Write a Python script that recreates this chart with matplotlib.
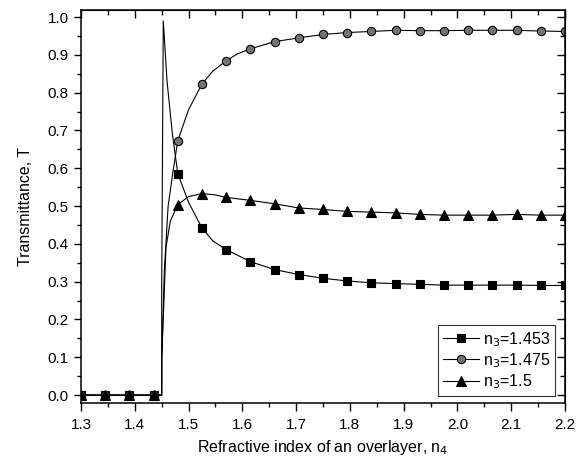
import numpy as np
import matplotlib
matplotlib.use("Agg")
import matplotlib.pyplot as plt
from matplotlib.ticker import MultipleLocator

plt.rcParams["font.family"] = ["Liberation Sans", "DejaVu Sans"]

# marker positions (overlayer index n4)
n4 = [1.300, 1.345, 1.390, 1.435, 1.480, 1.525, 1.570, 1.615, 1.660, 1.705, 1.750,
      1.795, 1.840, 1.885, 1.930, 1.975, 2.020, 2.065, 2.110, 2.155, 2.200]

t_1453 = [0.0, 0.0, 0.0, 0.0, 0.586, 0.442, 0.385, 0.353, 0.332, 0.319, 0.309,
          0.302, 0.297, 0.295, 0.293, 0.291, 0.291, 0.291, 0.291, 0.290, 0.290]
t_1475 = [0.0, 0.0, 0.0, 0.0, 0.673, 0.823, 0.884, 0.916, 0.935, 0.945, 0.954,
          0.959, 0.962, 0.965, 0.964, 0.964, 0.965, 0.965, 0.965, 0.963, 0.962]
t_15 = [0.0, 0.0, 0.0, 0.0, 0.504, 0.533, 0.523, 0.515, 0.506, 0.495, 0.491,
        0.486, 0.484, 0.482, 0.478, 0.476, 0.476, 0.476, 0.478, 0.476, 0.476]

# extra points of the curves between markers (mostly near the cut-off)
ex_1453_x = [1.4500, 1.4501, 1.453, 1.460, 1.470, 1.500, 1.545]
ex_1453_y = [0.0, 0.30, 0.990, 0.830, 0.690, 0.510, 0.408]
ex_1475_x = [1.4500, 1.4502, 1.455, 1.462, 1.472, 1.500, 1.545, 1.590]
ex_1475_y = [0.0, 0.10, 0.33, 0.50, 0.60, 0.755, 0.857, 0.902]
ex_15_x = [1.4500, 1.4502, 1.458, 1.466, 1.500, 1.548]
ex_15_y = [0.0, 0.10, 0.39, 0.46, 0.525, 0.530]

labels = ["n$_3$=1.453", "n$_3$=1.475", "n$_3$=1.5"]


def merged(xm, ym, xe, ye):
    x = np.concatenate([xm, xe])
    y = np.concatenate([ym, ye])
    order = np.argsort(x, kind="stable")
    marks = [int(np.where(order == i)[0][0]) for i in range(len(xm))]
    return x[order], y[order], marks


fig = plt.figure(figsize=(5.87, 4.68), dpi=100)
ax = fig.add_axes([0.138, 0.1396, 0.8245, 0.8401])

series = [
    (t_1453, ex_1453_x, ex_1453_y, dict(marker="s", ms=5.5, mfc="black")),
    (t_1475, ex_1475_x, ex_1475_y, dict(marker="o", ms=6, mfc="0.45")),
    (t_15, ex_15_x, ex_15_y, dict(marker="^", ms=7, mfc="black")),
]
for (ym, xe, ye, st), lab in zip(series, labels):
    x, y, marks = merged(np.array(n4), np.array(ym), np.array(xe), np.array(ye))
    ax.plot(x, y, color="black", lw=0.8, markevery=marks, mec="black",
            mew=0.8, label=lab, **st)

ax.set_xlim(1.3, 2.2)
ax.set_ylim(-0.02, 1.02)
fmt = plt.FuncFormatter(lambda v, p: f"{v:.1f}")
for a in (ax.xaxis, ax.yaxis):
    a.set_major_locator(MultipleLocator(0.1))
    a.set_minor_locator(MultipleLocator(0.05))
    a.set_major_formatter(fmt)

# outward ticks on bottom/left
ax.tick_params(which="both", direction="out", width=1)
ax.tick_params(axis="x", which="major", length=6, labelsize=11, pad=5)
ax.tick_params(axis="y", which="major", length=5, labelsize=11, pad=4)
ax.tick_params(which="minor", length=3)

# inward ticks on top/right
top = ax.secondary_xaxis("top")
right = ax.secondary_yaxis("right")
for sec, a in ((top, top.xaxis), (right, right.yaxis)):
    a.set_major_locator(MultipleLocator(0.1))
    a.set_minor_locator(MultipleLocator(0.05))
    sec.tick_params(which="both", direction="in", width=1, labelsize=0)
    sec.tick_params(which="major", length=6)
    sec.tick_params(which="minor", length=3.5)
    a.set_major_formatter(plt.NullFormatter())
    a.set_minor_formatter(plt.NullFormatter())

for s in ax.spines.values():
    s.set_linewidth(1.1)

ax.set_xlabel("Refractive index of an overlayer, n$_4$", fontsize=11.5, labelpad=4)
ax.set_ylabel("Transmittance, T", fontsize=11.5)
ax.yaxis.set_label_coords(-0.10, 0.5)

leg = ax.legend(loc="lower right", bbox_to_anchor=(0.979, 0.018),
                fontsize=11.5, handlelength=2.3,
                frameon=True, fancybox=False, edgecolor="black",
                borderaxespad=0, borderpad=0.3, labelspacing=0.15,
                handletextpad=0.2)
leg.get_frame().set_linewidth(0.8)

fig.savefig("out.png", dpi=100)
